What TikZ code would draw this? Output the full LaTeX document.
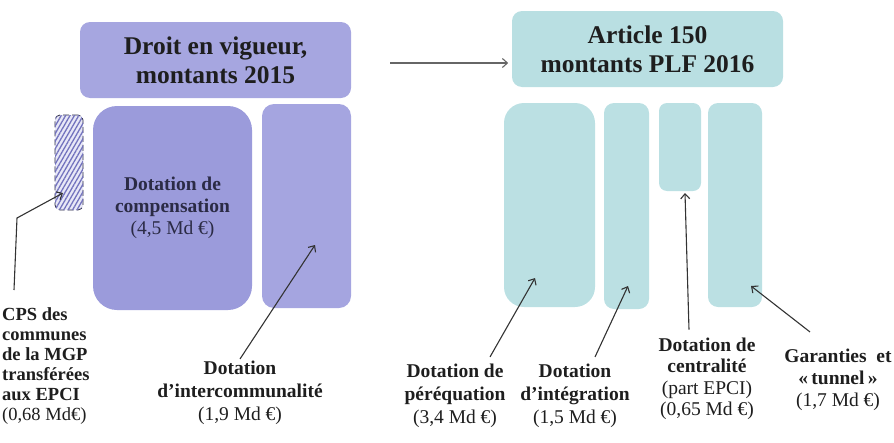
\documentclass[tikz,border=0pt]{standalone}
\usepackage{fontspec}
\setmainfont{Liberation Serif}
\usepackage{xcolor}
\usetikzlibrary{arrows.meta}
\usetikzlibrary{patterns.meta}

\definecolor{lavtitre}{HTML}{A6A6E0}
\definecolor{lavbloc}{HTML}{9B9BDB}
\definecolor{lavclair}{HTML}{A5A5E0}
\definecolor{hachure}{HTML}{7373BE}
\definecolor{turqtitre}{HTML}{B9DFE2}
\definecolor{turqbloc}{HTML}{BBE0E3}
\definecolor{encre}{HTML}{1E1E1E}
\definecolor{texteloc}{HTML}{2B2B45}
\definecolor{trait}{HTML}{333333}

\begin{document}
\begin{tikzpicture}[x=1pt,y=-1pt,
    titre/.style={rounded corners=10pt,inner sep=0pt,align=center,text=encre,
      font=\bfseries\fontsize{25.5}{29}\selectfont},
    bloc/.style={inner sep=0pt,align=center,text=texteloc,
      font=\fontsize{19.5}{22}\selectfont},
    legende/.style={align=center,text=encre,inner sep=2pt,
      font=\fontsize{19.5}{23}\selectfont},
    fleche/.style={-{Straight Barb[length=5pt,width=9pt]},draw=trait,line width=1.1pt}]
  \useasboundingbox (0,0) rectangle (894,442);

  \node[titre,fill=lavtitre,minimum width=271,minimum height=76] (droit) at (215.5,60)
    {Droit en vigueur,\\montants 2015};
  \node[titre,fill=turqtitre,minimum width=271,minimum height=76] (plf) at (647.5,49)
    {Article 150\\montants PLF 2016};
  \draw[fleche,draw=gray!80!black] ([xshift=39pt,yshift=-3pt]droit.east) -- ++(118,0);

  \node[bloc,fill=lavbloc,rounded corners=24pt,minimum width=159,minimum height=204] (compens) at (172.5,208)
    {\textbf{Dotation de}\\\textbf{compensation}\\(4,5 Md €)};
  \node[bloc,fill=lavclair,rounded corners=12pt,minimum width=89,minimum height=204] (interc) at (306.5,206) {};
  \node[bloc,fill=lavclair!25,rounded corners=5pt,minimum width=28,minimum height=95,
    draw=texteloc,dash pattern=on 6pt off 3pt,thick,
    postaction={pattern={Lines[angle=60,distance=3.8pt,line width=1.3pt]},pattern color=hachure}] (cps) at (69,162.5) {};

  \node[bloc,fill=turqbloc,rounded corners=20pt,minimum width=91,minimum height=204] (pereq) at (549.5,205) {};
  \node[bloc,fill=turqbloc,rounded corners=10pt,minimum width=45,minimum height=206] (integ) at (626.5,206) {};
  \node[bloc,fill=turqbloc,rounded corners=8pt,minimum width=42,minimum height=88] (centr) at (680,147) {};
  \node[bloc,fill=turqbloc,rounded corners=10pt,minimum width=54,minimum height=204] (garant) at (735,205) {};

  \coordinate (cpscoude) at (17,218);
  \coordinate (cpsbout) at (63,193);
  \coordinate (intercbout) at (315,245);
  \coordinate (pereqbout) at (535,278);
  \coordinate (integbout) at (628,286);
  \coordinate (centrbout) at (685,193);
  \coordinate (garantbout) at (751,286);

  \node[legende,anchor=north west,align=left,font=\fontsize{18.5}{20}\selectfont] (lcps) at (0,305)
    {\textbf{CPS des}\\\textbf{communes}\\\textbf{de la MGP}\\\textbf{transférées}\\\textbf{aux EPCI}\\(0,68 Md€)};
  \node[legende] (linterc) at (240,393)
    {\textbf{Dotation}\\\textbf{d’intercommunalité}\\(1,9 Md €)};
  \node[legende] (lpereq) at (455,396)
    {\textbf{Dotation de}\\\textbf{péréquation}\\(3,4 Md €)};
  \node[legende] (linteg) at (575,396)
    {\textbf{Dotation}\\\textbf{d’intégration}\\(1,5 Md €)};
  \node[legende,font=\fontsize{19.5}{21.5}\selectfont] (lcentr) at (707,379)
    {\textbf{Dotation de}\\\textbf{centralité}\\(part EPCI)\\(0,65 Md €)};
  \node[legende,font=\fontsize{19.5}{22}\selectfont] (lgarant) at (838,380)
    {\textbf{Garanties\ \ et}\\\textbf{«\,tunnel\,»}\\(1,7 Md €)};

  \draw[fleche] ([xshift=14pt,yshift=15pt]lcps.north west) -- (cpscoude) -- (cpsbout);
  \draw[fleche] (linterc.north) -- (intercbout);
  \draw[fleche] ([xshift=35pt,yshift=5pt]lpereq.north) -- (pereqbout);
  \draw[fleche] ([xshift=20pt,yshift=5pt]linteg.north) -- (integbout);
  \draw[fleche] ([xshift=-18pt,yshift=6pt]lcentr.north) -- (centrbout);
  \draw[fleche] ([xshift=-28pt,yshift=15pt]lgarant.north) -- (garantbout);
\end{tikzpicture}
\end{document}
